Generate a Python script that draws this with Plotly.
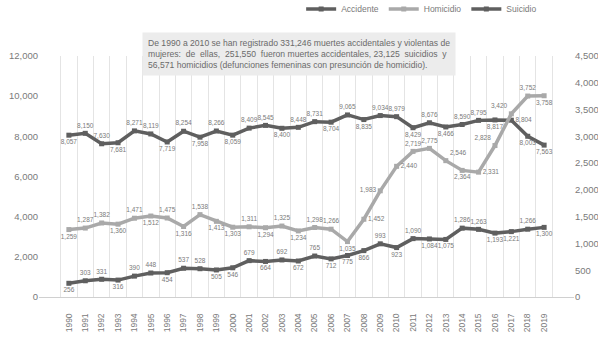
import plotly.graph_objects as go

years = [str(y) for y in range(1990, 2020)]

accidente = [8057, 8150, 7630, 7681, 8271, 8119, 7719, 8254, 7958, 8266,
             8059, 8409, 8545, 8400, 8448, 8731, 8704, 9065, 8835, 9034,
             8979, 8429, 8676, 8466, 8590, 8795, 8817, 8804, 8003, 7563]
homicidio = [1259, 1287, 1382, 1360, 1471, 1512, 1475, 1316, 1538, 1413,
             1303, 1311, 1294, 1325, 1234, 1298, 1266, 1035, 1452, 1983,
             2440, 2719, 2775, 2546, 2364, 2331, 2828, 3420, 3752, 3758]
suicidio = [256, 303, 331, 316, 390, 448, 454, 537, 528, 505,
            546, 679, 664, 692, 672, 765, 712, 775, 866, 993,
            923, 1090, 1084, 1075, 1286, 1263, 1193, 1221, 1266, 1300]

T, B, R, L = "top center", "bottom center", "middle right", "middle left"
pos_acc = [B, T, T, B, T, T, B, T, B, T,
           B, T, T, B, T, T, B, T, B, T,
           T, B, T, B, T, T, B, R, B, B]
pos_hom = [B, T, T, B, T, B, T, B, T, B,
           B, T, B, T, B, T, T, B, R, L,
           R, T, T, "top right", B, R, "top left", "top left", T, B]
pos_sui = [B, T, T, B, T, T, B, T, T, B,
           B, T, B, T, B, T, B, B, B, T,
           B, T, B, B, T, T, B, B, T, B]

DARK = "#5f5f5f"
LIGHT = "#a9a9a9"
TXT = "#7a7a7a"
FONT = "Liberation Sans"

fig = go.Figure()


def add_series(name, values, color, positions, axis):
    fig.add_trace(go.Scatter(
        x=years, y=values, name=name, yaxis=axis,
        mode="lines+markers+text",
        line=dict(color=color, width=3.5),
        marker=dict(symbol="square", size=5, color=color),
        text=[f"{v:,}" for v in values],
        textposition=positions,
        textfont=dict(size=6.5, color=TXT, family=FONT),
        cliponaxis=False,
    ))


add_series("Accidente", accidente, DARK, pos_acc, "y")
add_series("Homicidio", homicidio, LIGHT, pos_hom, "y2")
add_series("Suicidio", suicidio, DARK, pos_sui, "y2")

fig.add_annotation(
    xref="paper", yref="paper", x=0.486, y=1.01,
    xanchor="center", yanchor="middle", align="left", showarrow=False,
    text=("De 1990 a 2010 se han registrado 331,246 muertes accidentales y violentas de<br>"
          "mujeres:  de  ellas,  251,550  fueron muertes accidentales, 23,125  suicidios  y<br>"
          "56,571 homicidios (defunciones femeninas con presunción de homicidio)."),
    font=dict(size=8.6, color="#6a6a6a", family=FONT),
    bgcolor="#ececec", borderpad=5,
)

fig.update_layout(
    width=598, height=341,
    margin=dict(l=39, r=24, t=56, b=44, autoexpand=False),
    paper_bgcolor="white", plot_bgcolor="white",
    font=dict(family=FONT, color=TXT),
    showlegend=True,
    legend=dict(orientation="h", x=0.49, y=1.195, xanchor="left", yanchor="middle",
                font=dict(size=8.5, color=TXT), itemwidth=30,
                bgcolor="rgba(0,0,0,0)"),
    xaxis=dict(type="category", tickson="boundaries", showgrid=True,
               gridcolor="#e4e4e4", gridwidth=1, tickangle=-90,
               tickfont=dict(size=8.5, color=TXT), ticks="",
               ticklabelstandoff=12,
               showline=True, linecolor="#d0d0d0", zeroline=False),
    yaxis=dict(range=[0, 12000], dtick=2000, tickformat=",",
               showgrid=False, zeroline=False, showline=False,
               tickfont=dict(size=9.5, color=TXT), ticks=""),
    yaxis2=dict(range=[0, 4500], dtick=500, tickformat=",", overlaying="y",
                side="right", showgrid=False, zeroline=False, showline=False,
                tickfont=dict(size=9.5, color=TXT), ticks=""),
)

fig.write_html("out.html")
